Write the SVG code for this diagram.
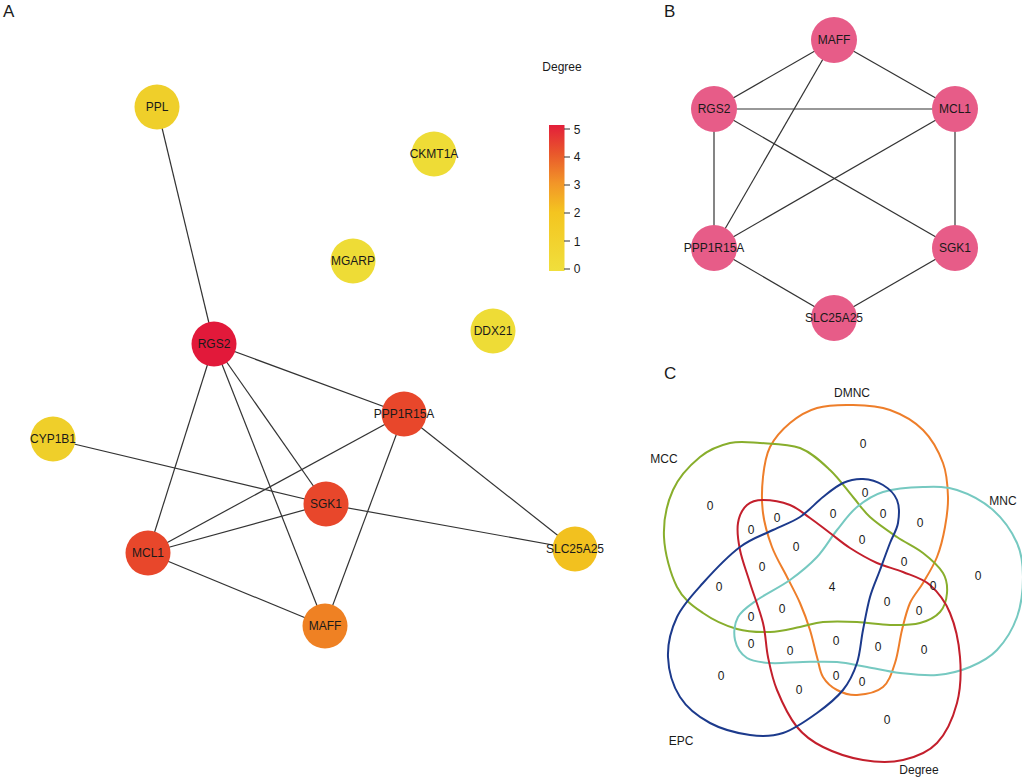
<svg xmlns="http://www.w3.org/2000/svg" width="1022" height="779" viewBox="0 0 1022 779">
<style>
text{font-family:"Liberation Sans",Arial,sans-serif;fill:#1a1a1a}
.lbl{font-size:12px;text-anchor:middle;dominant-baseline:central}
.panel{font-size:17px}
.edge{stroke:#333;stroke-width:1.2;fill:none}
.v{font-size:12px;text-anchor:middle;dominant-baseline:central}
.set{fill:none;stroke-width:2}
.tick{stroke:#333;stroke-width:1}
</style>
<defs>
<linearGradient id="cbar" x1="0" y1="1" x2="0" y2="0">
<stop offset="0" stop-color="#F0DF3C"/>
<stop offset="0.4" stop-color="#F4C520"/>
<stop offset="0.6" stop-color="#F29628"/>
<stop offset="0.8" stop-color="#E9592B"/>
<stop offset="1" stop-color="#E31E3A"/>
</linearGradient>
</defs>
<rect width="1022" height="779" fill="#fff"/>

<!-- Panel A -->
<text class="panel" x="3" y="17">A</text>
<g id="edgesA">
<line class="edge" x1="157" y1="107" x2="214" y2="344"/>
<line class="edge" x1="214" y1="344" x2="404" y2="414"/>
<line class="edge" x1="214" y1="344" x2="148" y2="553"/>
<line class="edge" x1="214" y1="344" x2="326" y2="504"/>
<line class="edge" x1="214" y1="344" x2="325" y2="626"/>
<line class="edge" x1="404" y1="414" x2="148" y2="553"/>
<line class="edge" x1="404" y1="414" x2="325" y2="626"/>
<line class="edge" x1="404" y1="414" x2="575" y2="549"/>
<line class="edge" x1="326" y1="504" x2="148" y2="553"/>
<line class="edge" x1="326" y1="504" x2="53" y2="439"/>
<line class="edge" x1="326" y1="504" x2="575" y2="549"/>
<line class="edge" x1="148" y1="553" x2="325" y2="626"/>
</g>
<g id="nA_PPL"><circle cx="157" cy="107" r="22.5" fill="#EFCF2A"/><text class="lbl" x="157" y="107">PPL</text></g>
<g id="nA_CKMT1A"><circle cx="434" cy="154" r="22.5" fill="#EEDC36"/><text class="lbl" x="434" y="154">CKMT1A</text></g>
<g id="nA_MGARP"><circle cx="353" cy="261" r="22.5" fill="#EEDC36"/><text class="lbl" x="353" y="261">MGARP</text></g>
<g id="nA_DDX21"><circle cx="493" cy="331" r="22.5" fill="#EEDC36"/><text class="lbl" x="493" y="331">DDX21</text></g>
<g id="nA_RGS2"><circle cx="214" cy="344" r="22.5" fill="#E2193A"/><text class="lbl" x="214" y="344">RGS2</text></g>
<g id="nA_PPP1R15A"><circle cx="404" cy="414" r="22.5" fill="#E8472B"/><text class="lbl" x="404" y="414">PPP1R15A</text></g>
<g id="nA_CYP1B1"><circle cx="53" cy="439" r="22.5" fill="#EFCF2A"/><text class="lbl" x="53" y="439">CYP1B1</text></g>
<g id="nA_SGK1"><circle cx="326" cy="504" r="22.5" fill="#E8472B"/><text class="lbl" x="326" y="504">SGK1</text></g>
<g id="nA_MCL1"><circle cx="148" cy="553" r="22.5" fill="#E8472B"/><text class="lbl" x="148" y="553">MCL1</text></g>
<g id="nA_SLC25A25"><circle cx="575" cy="549" r="22.5" fill="#F2C11F"/><text class="lbl" x="575" y="549">SLC25A25</text></g>
<g id="nA_MAFF"><circle cx="325" cy="626" r="22.5" fill="#EF8123"/><text class="lbl" x="325" y="626">MAFF</text></g>

<g id="legend">
<text class="lbl" x="562" y="67">Degree</text>
<rect x="549" y="125" width="15.5" height="146" fill="url(#cbar)"/>
<line class="tick" x1="564" y1="129" x2="570" y2="129"/>
<line class="tick" x1="564" y1="157" x2="570" y2="157"/>
<line class="tick" x1="564" y1="185" x2="570" y2="185"/>
<line class="tick" x1="564" y1="213" x2="570" y2="213"/>
<line class="tick" x1="564" y1="241" x2="570" y2="241"/>
<line class="tick" x1="564" y1="269" x2="570" y2="269"/>
<text class="v" x="577" y="130">5</text>
<text class="v" x="577" y="157">4</text>
<text class="v" x="577" y="185">3</text>
<text class="v" x="577" y="213">2</text>
<text class="v" x="577" y="242">1</text>
<text class="v" x="577" y="269">0</text>
</g>

<!-- Panel B -->
<text class="panel" x="664" y="17">B</text>
<g id="edgesB">
<line class="edge" x1="834" y1="40" x2="714" y2="109"/>
<line class="edge" x1="834" y1="40" x2="955" y2="109"/>
<line class="edge" x1="834" y1="40" x2="714" y2="248"/>
<line class="edge" x1="714" y1="109" x2="955" y2="109"/>
<line class="edge" x1="714" y1="109" x2="714" y2="248"/>
<line class="edge" x1="714" y1="109" x2="955" y2="248"/>
<line class="edge" x1="955" y1="109" x2="714" y2="248"/>
<line class="edge" x1="955" y1="109" x2="955" y2="248"/>
<line class="edge" x1="714" y1="248" x2="834" y2="318"/>
<line class="edge" x1="955" y1="248" x2="834" y2="318"/>
</g>
<g id="nB_MAFF"><circle cx="834" cy="40" r="23" fill="#E75C88"/><text class="lbl" x="834" y="40">MAFF</text></g>
<g id="nB_RGS2"><circle cx="714" cy="109" r="23" fill="#E75C88"/><text class="lbl" x="714" y="109">RGS2</text></g>
<g id="nB_MCL1"><circle cx="955" cy="109" r="23" fill="#E75C88"/><text class="lbl" x="955" y="109">MCL1</text></g>
<g id="nB_PPP1R15A"><circle cx="714" cy="248" r="23" fill="#E75C88"/><text class="lbl" x="714" y="248">PPP1R15A</text></g>
<g id="nB_SGK1"><circle cx="955" cy="248" r="23" fill="#E75C88"/><text class="lbl" x="955" y="248">SGK1</text></g>
<g id="nB_SLC25A25"><circle cx="834" cy="318" r="23" fill="#E75C88"/><text class="lbl" x="834" y="318">SLC25A25</text></g>

<!-- Panel C -->
<text class="panel" x="664" y="379">C</text>
<g id="venn">
<path id="set_DMNC" class="set" stroke="#EE7E2A" d="M853,405 C865.2,405.3 878.3,405.8 890,410 S914.2,421.2 923,430 S938.8,451.8 943,463 S947.7,486.3 948,497 S946.8,517 945,527 S940.7,547.7 937,557 S927.5,575.3 923,583 S913.5,595.2 910,603 S904.5,620 902,630 S898.2,653.5 895,663 S889.3,681.7 883,687 S864.7,694.5 857,695 S842.7,693 837,690 S826.3,682.5 823,677 S819.2,664.8 817,657 S812.8,639 810,630 S803.8,611.8 800,603 S791.7,586.3 787,577 S776,557.7 772,547 S764.5,524.7 763,513 S761.8,488 763,477 S765.5,456 770,447 S782.2,429.5 790,423 S806.5,411 817,408 S840.8,404.7 853,405 Z"/>
<path id="set_MCC" class="set" stroke="#88AE2C" d="M760,443 C771.7,443.8 788.3,443.5 800,448 S821.2,461.8 830,470 S846.3,489.2 853,497 S862.7,510.3 870,517 S888.2,531 897,537 S915.3,547 923,553 S939,566.3 943,573 S947.5,586.5 947,593 S944.5,607 940,612 S928.3,620.8 920,623 S900.5,625.2 890,625 S868.2,622.5 857,622 S832.5,621.2 823,622 S808.8,625.3 800,627 S780.5,631.7 770,632 S748.2,632.2 737,629 S713,620 703,613 S683.5,599.7 677,587 S664.7,553.2 664,537 S667,503.3 673,490 S690.5,464.8 700,457 S720,445.3 730,443 S748.3,442.2 760,443 Z"/>
<path id="set_MNC" class="set" stroke="#76C9C1" d="M923,487 C935.3,486.7 945.3,486.2 957,490 S983,501.2 993,510 S1012,531.8 1017,543 S1023,564.7 1023,577 S1021.3,604.8 1017,617 S1004.8,641.7 997,650 S980,662.8 970,667 S948.7,674 937,675 S911.7,674.3 900,673 S877.5,668.8 867,667 S847.7,662.8 837,662 S814.2,661.8 803,662 S779.3,663.7 770,663 S752.8,661.8 747,658 S736.5,646.8 735,640 S734.3,623.7 738,617 S748.3,606.2 757,600 S780,587.2 790,580 S809.2,565.3 817,557 S830.3,538.3 837,530 S849.3,513.3 857,507 S872,495.3 883,492 S910.7,487.3 923,487 Z"/>
<path id="set_Degree" class="set" stroke="#C31F2C" d="M763,500 C770.2,500 782.2,502 790,505 S803.3,513.3 810,518 S823.3,528 830,533 S842.2,543 850,548 S868.2,559 877,563 S894.2,568.3 903,572 S922.2,578.2 930,585 S945,601 950,613 S958.8,642 960,657 S960.8,688.7 957,703 S946,733.5 937,743 S915.3,757.2 903,760 S876.3,762.2 863,760 S834,752.5 823,747 S804.7,736.5 797,727 S781.8,701.7 777,690 S770.3,668.2 768,657 S766,635.3 763,623 S753.8,595.2 750,583 S742,560 740,550 S736.8,530.5 738,523 S742.8,508.8 747,505 S755.8,500 763,500 Z"/>
<path id="set_EPC" class="set" stroke="#1C3A8C" d="M863,479 C869.7,479.3 877.3,481.5 883,485 S894.5,493.7 897,500 S899.2,515.8 898,523 S893,535.2 890,543 S883.3,561 880,570 S872.8,587 870,597 S865.2,619 863,630 S860.3,653 857,663 S849.7,681.7 843,690 S827,705.8 817,713 S794.2,729.3 783,733 S762.2,736.7 750,735 S721.7,729.3 710,723 S687,708 680,697 S668.5,670.3 668,657 S671.2,629.3 677,617 S692.5,594.7 703,583 S728.3,555.8 740,547 S763,535 773,530 S791.7,522.5 800,517 S815.8,502.7 823,497 S836.3,486 843,483 S856.3,478.7 863,479 Z"/>
</g>
<g id="vennLabels">
<text class="v" x="852" y="393">DMNC</text>
<text class="v" x="664" y="459">MCC</text>
<text class="v" x="1003" y="501">MNC</text>
<text class="v" x="681" y="741">EPC</text>
<text class="v" x="919" y="770">Degree</text>
</g>
<g id="vennCounts">
<text class="v" x="863" y="444">0</text>
<text class="v" x="710" y="506">0</text>
<text class="v" x="978" y="576">0</text>
<text class="v" x="721" y="676">0</text>
<text class="v" x="887" y="720">0</text>
<text class="v" x="832" y="587">4</text>
<text class="v" x="865" y="493">0</text>
<text class="v" x="883" y="514">0</text>
<text class="v" x="833" y="514">0</text>
<text class="v" x="777" y="518">0</text>
<text class="v" x="751" y="530">0</text>
<text class="v" x="920" y="523">0</text>
<text class="v" x="862" y="540">0</text>
<text class="v" x="796" y="547">0</text>
<text class="v" x="762" y="567">0</text>
<text class="v" x="904" y="562">0</text>
<text class="v" x="719" y="587">0</text>
<text class="v" x="933" y="586">0</text>
<text class="v" x="887" y="602">0</text>
<text class="v" x="782" y="609">0</text>
<text class="v" x="919" y="611">0</text>
<text class="v" x="751" y="617">0</text>
<text class="v" x="836" y="641">0</text>
<text class="v" x="751" y="644">0</text>
<text class="v" x="878" y="647">0</text>
<text class="v" x="924" y="650">0</text>
<text class="v" x="790" y="651">0</text>
<text class="v" x="836" y="676">0</text>
<text class="v" x="862" y="682">0</text>
<text class="v" x="799" y="690">0</text>
</g>
</svg>
